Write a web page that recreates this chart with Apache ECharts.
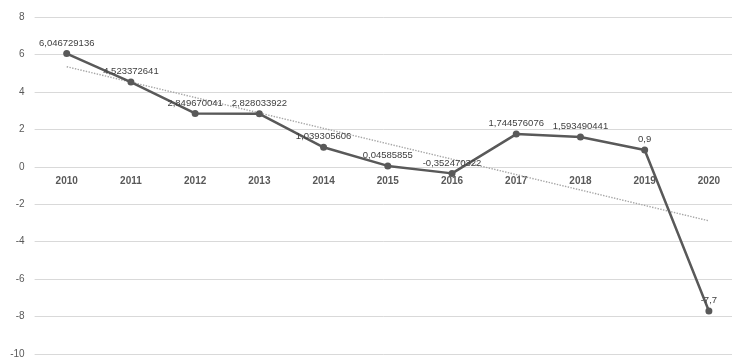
<!DOCTYPE html>
<html>
<head>
<meta charset="utf-8">
<script src="https://cdn.jsdelivr.net/npm/echarts@6/dist/echarts.min.js"></script>
<style>
html,body{margin:0;padding:0;background:#fff;}
#c{width:732px;height:358px;}
</style>
</head>
<body>
<div id="c"></div>
<script>
const categories = ['2010','2011','2012','2013','2014','2015','2016','2017','2018','2019','2020'];
const values = [6.046729136, 4.523372641, 2.849670041, 2.828033922, 1.039305606, 0.04585855, -0.352470322, 1.744576076, 1.593490441, 0.9, -7.7];
const labelTexts = ['6,046729136','4,523372641','2,849670041','2,828033922','1,039305606','0,04585855','-0,352470322','1,744576076','1,593490441','0,9','-7,7'];
const yMin = -10, yMax = 8, yStep = 2;

// linear trendline (least squares) computed from the data
const n = values.length;
const mx = (n - 1) / 2;
const my = values.reduce((a, b) => a + b, 0) / n;
let sxy = 0, sxx = 0;
values.forEach((v, i) => { sxy += (i - mx) * (v - my); sxx += (i - mx) * (i - mx); });
const slope = sxy / sxx;
const trend = values.map((v, i) => my + slope * (i - mx));

const H = 358, TOP = 17, BOTTOM = 4;
const plotH = H - TOP - BOTTOM;
// place category axis at value 0 (as in the original, where the axis crosses at 0)
const zeroOffset = -plotH * (0 - yMin) / (yMax - yMin);

const FONT = '"Liberation Sans", Arial, sans-serif';
const chart = echarts.init(document.getElementById('c'), null, {renderer: 'canvas'});
chart.setOption({
  animation: false,
  backgroundColor: '#ffffff',
  grid: {left: 34.6, right: -9, top: TOP, bottom: BOTTOM, containLabel: false, outerBoundsMode: 'none'},
  xAxis: {
    type: 'category',
    data: categories,
    boundaryGap: true,
    position: 'bottom',
    offset: zeroOffset,
    axisLine: {show: false, onZero: false},
    axisTick: {show: false},
    axisLabel: {color: '#595959', fontSize: 10, fontWeight: 'bold', fontFamily: FONT, margin: 9},
    splitLine: {show: false}
  },
  yAxis: {
    type: 'value',
    min: yMin, max: yMax, interval: yStep,
    axisLine: {show: false},
    axisTick: {show: false},
    axisLabel: {color: '#595959', fontSize: 10, fontFamily: FONT, margin: 10},
    splitLine: {lineStyle: {color: '#d9d9d9', width: 1}}
  },
  series: [
    {
      type: 'line',
      data: trend,
      symbol: 'none',
      silent: true,
      z: 1,
      lineStyle: {color: '#a6a6a6', width: 1.4, type: 'dotted'}
    },
    {
      type: 'line',
      data: values,
      z: 3,
      symbol: 'circle',
      symbolSize: 7,
      itemStyle: {color: '#595959'},
      lineStyle: {color: '#595959', width: 2.5},
      label: {
        show: true,
        position: 'top',
        distance: 2,
        color: '#404040',
        fontSize: 9.5,
        fontFamily: FONT,
        formatter: p => labelTexts[p.dataIndex]
      }
    }
  ]
});
</script>
</body>
</html>
